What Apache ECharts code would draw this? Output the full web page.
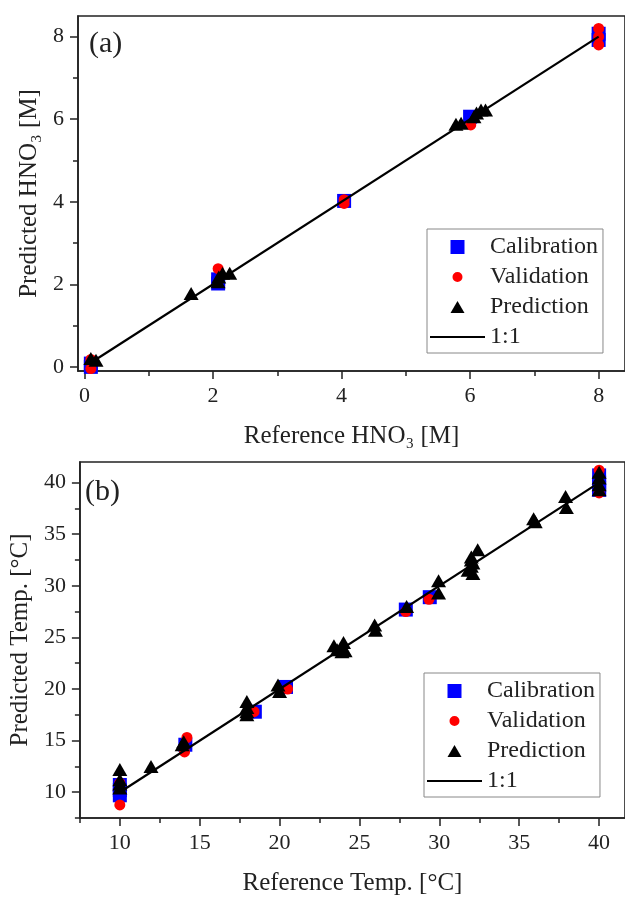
<!DOCTYPE html>
<html>
<head>
<meta charset="utf-8">
<script src="https://cdn.jsdelivr.net/npm/echarts@6/dist/echarts.min.js"></script>
<style>
  html, body { margin: 0; padding: 0; background: #ffffff; }
  #chart { width: 625px; height: 897px; }
</style>
</head>
<body>
<div id="chart"></div>
<script>
// (a) HNO3 [M]
const calA = [[0.1, 0.08], [0.1, 0.0], [2.08, 2.12], [2.08, 2.02], [4.04, 4.02], [6.0, 6.06], [8.0, 8.07], [8.0, 7.92]];
const valA = [[0.1, 0.18], [0.1, -0.04], [2.08, 2.38], [4.04, 4.05], [4.04, 3.96], [6.01, 5.86], [8.0, 8.2], [8.0, 7.8], [8.0, 8.0]];
const preA = [[0.1, 0.2], [0.18, 0.16], [1.66, 1.78], [2.08, 2.06], [2.09, 2.18], [2.15, 2.27], [2.26, 2.27],
  [5.78, 5.88], [5.86, 5.9], [6.06, 6.06], [6.1, 6.15], [6.17, 6.22], [6.24, 6.22]];
const lineA = [[0.1, 0.1], [8, 8]];

// (b) Temp [°C]
const calB = [[10, 10.7], [10, 9.7], [10, 10.2], [14.1, 14.6], [18.45, 17.8], [20.4, 20.2], [27.9, 27.7],
  [29.4, 28.9], [40, 40.7], [40, 39.3], [40, 40.0], [40, 39.5]];
const valB = [[10, 8.77], [10, 10.9], [14.2, 15.3], [14.05, 13.9], [18.4, 17.8], [20.5, 20.0], [27.9, 27.5],
  [29.35, 28.7], [40, 41.2], [40, 39.0]];
const preB = [[10, 12.2], [10, 11.2], [10, 10.8], [10, 10.4], [11.95, 12.5], [13.9, 14.6], [14.0, 14.9],
  [17.95, 18.8], [17.95, 18.2], [17.95, 17.8], [17.95, 17.5], [19.9, 20.4], [20.0, 19.75],
  [23.4, 24.2], [24.0, 24.5], [23.9, 23.6], [23.6, 23.8], [24.1, 23.7], [25.95, 26.2], [26.0, 25.7],
  [27.95, 28.0], [29.95, 30.5], [29.95, 29.3], [31.8, 31.5], [32.0, 32.5], [32.0, 32.8], [32.0, 31.9],
  [32.4, 33.5], [32.1, 32.2], [32.1, 31.2], [35.9, 36.5], [36.0, 36.2], [37.9, 38.65], [37.95, 37.6],
  [40, 41.0], [40, 40.45], [40, 39.8], [40, 39.3]];
const lineB = [[10, 10], [40, 40]];

const ticksA = [0, 2, 4, 6, 8];
const minorA = [1, 3, 5, 7];
const ticksB = [10, 15, 20, 25, 30, 35, 40];
const minorB = [7.5, 12.5, 17.5, 22.5, 27.5, 32.5, 37.5];

const FONT = '"Liberation Serif", "Times New Roman", serif';
const INK = '#222';

const chart = echarts.init(document.getElementById('chart'), null, {renderer: 'canvas'});

function mainAxis(gridIndex, min, max, ticks, name, nameGap, pos) {
  return {
    type: 'value', gridIndex: gridIndex, min: min, max: max, position: pos,
    name: name, nameLocation: 'middle', nameGap: nameGap,
    nameTextStyle: {fontFamily: FONT, fontSize: 25, color: INK},
    axisLine: {show: true, onZero: false, lineStyle: {color: INK, width: 1.6}},
    axisTick: {show: true, inside: false, length: 8, customValues: ticks, lineStyle: {color: INK, width: 1.5}},
    axisLabel: {show: true, customValues: ticks, margin: 14,
      fontFamily: FONT, fontSize: 22, color: INK},
    splitLine: {show: false}
  };
}
function minorAxis(gridIndex, min, max, ticks, pos) {
  return {
    type: 'value', gridIndex: gridIndex, min: min, max: max, position: pos, offset: 0,
    axisLine: {show: false, onZero: false},
    axisTick: {show: true, inside: false, length: 5, customValues: ticks, lineStyle: {color: INK, width: 1.5}},
    axisLabel: {show: false},
    splitLine: {show: false}
  };
}

// legend icons (the leading moves pad the box so the marks keep their size)
const sq = 'path://M0,0L14,0L14,14L0,14Z';
const ci = 'path://M-2,-2M12,12M5,0A5,5 0 1,1 4.99,0Z';
const tr = 'path://M0,0M14,14M7,1L14,13L0,13Z';
const ln = 'path://M0,0L55,0L55,2L0,2Z';

function legendFor(top, left) {
  return {
    orient: 'vertical', left: left, top: top,
    padding: [6, 5, 4, 3], itemGap: 6,
    itemWidth: 55, itemHeight: 14,
    borderColor: '#888', borderWidth: 1,
    textStyle: {fontFamily: FONT, fontSize: 24, color: INK},
    data: [
      {name: 'Calibration', icon: sq},
      {name: 'Validation', icon: ci},
      {name: 'Prediction', icon: tr},
      {name: '1:1', icon: ln}
    ]
  };
}

function seriesFor(idx, cal, val, pre, line) {
  return [
    {name: 'Calibration', type: 'scatter', xAxisIndex: idx * 2, yAxisIndex: idx * 2, data: cal,
      symbol: 'rect', symbolSize: 14, itemStyle: {color: '#0000ff', opacity: 1}, z: 2},
    {name: 'Validation', type: 'scatter', xAxisIndex: idx * 2, yAxisIndex: idx * 2, data: val,
      symbol: 'circle', symbolSize: 11, itemStyle: {color: '#ff0000', opacity: 1}, z: 3},
    {name: 'Prediction', type: 'scatter', xAxisIndex: idx * 2, yAxisIndex: idx * 2, data: pre,
      symbol: 'triangle', symbolSize: [15, 13], itemStyle: {color: '#000000', opacity: 1}, z: 4},
    {name: '1:1', type: 'line', xAxisIndex: idx * 2, yAxisIndex: idx * 2, data: line,
      symbol: 'none', lineStyle: {color: '#000000', width: 2.2}, itemStyle: {color: '#000000'}, z: 5}
  ];
}

chart.setOption({
  backgroundColor: '#ffffff',
  animation: false,
  title: [
    {text: '(a)', left: 84, top: 24, textStyle: {fontFamily: FONT, fontSize: 30, fontWeight: 'normal', color: INK}},
    {text: '(b)', left: 80, top: 472, textStyle: {fontFamily: FONT, fontSize: 30, fontWeight: 'normal', color: INK}}
  ],
  grid: [
    {left: 78, top: 16, width: 550, height: 355, show: true, borderColor: INK, borderWidth: 1.6, backgroundColor: 'transparent'},
    {left: 78, top: 462, width: 550, height: 356, show: true, borderColor: INK, borderWidth: 1.6, backgroundColor: 'transparent'}
  ],
  xAxis: [
    mainAxis(0, -0.1, 8.41, ticksA, 'Reference HNO\u2083 [M]', 53, 'bottom'),
    minorAxis(0, -0.1, 8.41, minorA, 'bottom'),
    mainAxis(1, 7.5, 41.62, ticksB, 'Reference Temp. [\u00b0C]', 53, 'bottom'),
    minorAxis(1, 7.5, 41.62, minorB, 'bottom')
  ],
  yAxis: [
    mainAxis(0, -0.1, 8.5, ticksA, 'Predicted HNO\u2083 [M]', 36, 'left'),
    minorAxis(0, -0.1, 8.5, minorA, 'left'),
    mainAxis(1, 7.5, 42, ticksB, 'Predicted Temp. [\u00b0C]', 43, 'left'),
    minorAxis(1, 7.5, 42, minorB, 'left')
  ],
  legend: [legendFor(229, 427), legendFor(673, 424)],
  series: [].concat(seriesFor(0, calA, valA, preA, lineA), seriesFor(1, calB, valB, preB, lineB))
});
</script>
</body>
</html>
